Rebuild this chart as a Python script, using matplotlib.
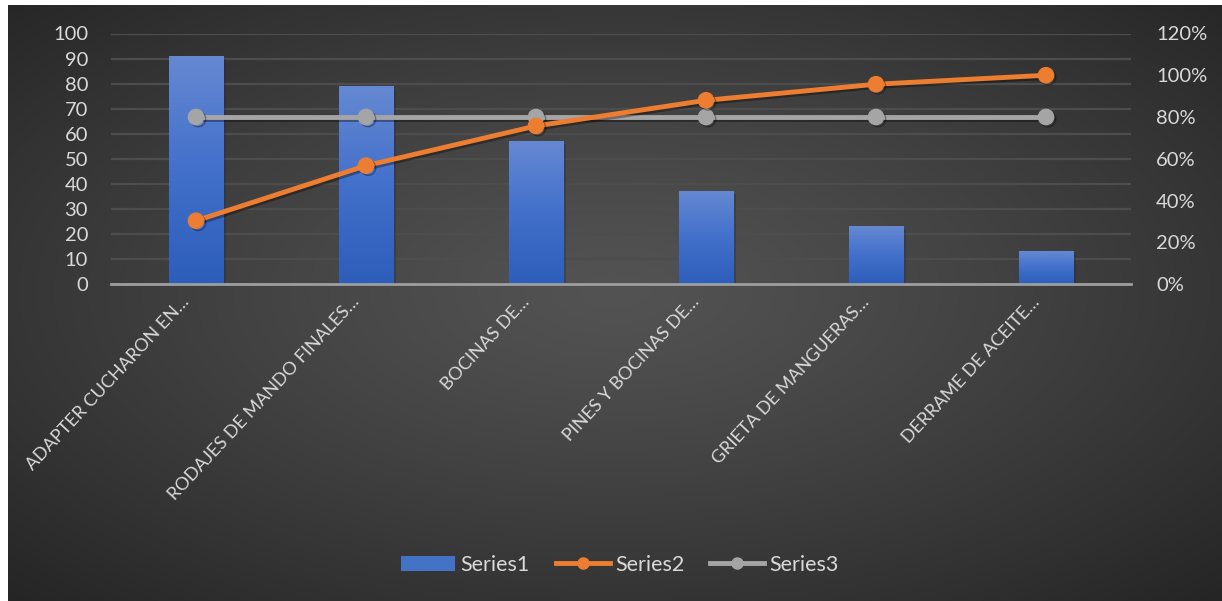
import matplotlib.pyplot as plt
import matplotlib.patheffects as pe
import matplotlib.transforms as mtransforms
import numpy as np
from matplotlib.patches import Patch
from matplotlib.lines import Line2D
from matplotlib.colors import LinearSegmentedColormap

categories = ['ADAPTER CUCHARON EN…', 'RODAJES DE MANDO FINALES…', 'BOCINAS DE…',
              'PINES Y BOCINAS DE…', 'GRIETA DE MANGUERAS…', 'DERRAME DE ACEITE…']
series1 = [91, 79, 57, 37, 23, 13]
series2 = [0.303, 0.567, 0.757, 0.88, 0.957, 1.0]
series3 = [0.8, 0.8, 0.8, 0.8, 0.8, 0.8]
left_ticks = list(range(0, 101, 10))
right_ticks = [0, 0.2, 0.4, 0.6, 0.8, 1.0, 1.2]

plt.rcParams['font.family'] = ['Lato', 'DejaVu Sans']
txt = '#d9d9d9'

W, H = 1222, 601
fig = plt.figure(figsize=(W / 100, H / 100), dpi=100, facecolor='white')

# dark radial background (chart area has small white border top/left)
bg = fig.add_axes([8 / W, 0, 1 - 8 / W, 1 - 5 / H])
bg.set_axis_off()
yy, xx = np.mgrid[0:1:300j, 0:1:600j]
r = np.sqrt(((xx - 0.5) / 0.75) ** 2 + ((yy - 0.52) / 0.75) ** 2)
r = np.clip(r / r.max(), 0, 1)
c0 = np.array([0x53, 0x53, 0x53]) / 255
c1 = np.array([0x25, 0x25, 0x25]) / 255
img = c0 + (c1 - c0) * r[..., None] ** 1.2
bg.imshow(img, aspect='auto', extent=[0, 1, 0, 1], origin='lower')

left, right = 111 / W, 1131 / W
bottom, top = 1 - 284 / H, 1 - 33.5 / H
ax = fig.add_axes([left, bottom, right - left, top - bottom])
ax.patch.set_alpha(0)
x = np.arange(len(categories))

bars = ax.bar(x, series1, width=0.32, color='#4472c4', zorder=2)
grad = np.linspace(0, 1, 100)[:, None]
cmap = LinearSegmentedColormap.from_list('b', ['#2d5eba', '#4270cb', '#6588d2'])
for b in bars:
    bx, by, bw, bh = b.get_x(), b.get_y(), b.get_width(), b.get_height()
    im = ax.imshow(grad, cmap=cmap, aspect='auto', origin='lower',
                   extent=[bx, bx + bw, by, by + bh], zorder=2)
    im.set_clip_path(b)
    b.set_path_effects([pe.SimplePatchShadow(offset=(2, -2), alpha=0.25)])

ax.set_xlim(-0.5, len(categories) - 0.5)
ax.set_ylim(0, 100)
ax.set_yticks(left_ticks)
ax.set_yticklabels([str(v) for v in left_ticks], fontsize=14.5, color=txt)
ax.yaxis.grid(True, color='#4d4d4d', linewidth=1.6)
ax.set_axisbelow(True)
ax.tick_params(axis='y', length=0, pad=16.5)
ax.tick_params(axis='x', length=0, pad=7)
ax.set_xticks(x)
ax.set_xticklabels(categories, rotation=47, ha='right', va='top',
                   rotation_mode='anchor', fontsize=13, color=txt)
shift = mtransforms.ScaledTranslation(-0.15, 0, fig.dpi_scale_trans)
for lab in ax.get_xticklabels():
    lab.set_transform(lab.get_transform() + shift)
for s in ['top', 'left', 'right']:
    ax.spines[s].set_visible(False)
ax.spines['bottom'].set_color('#9e9e9e')
ax.spines['bottom'].set_linewidth(2)
ax.spines['bottom'].set_zorder(3)

ax2 = ax.twinx()
ax2.patch.set_alpha(0)
ax2.set_ylim(0, 1.2)
ax2.set_yticks(right_ticks)
ax2.set_yticklabels([f'{int(round(v * 100))}%' for v in right_ticks], fontsize=14.5, color=txt)
ax2.tick_params(axis='y', length=0, pad=18)
for s in ax2.spines.values():
    s.set_visible(False)

shadow = [pe.SimpleLineShadow(offset=(1.5, -1.5), alpha=0.35, shadow_color='black'), pe.Normal()]
ax2.plot(x, series3, color='#a5a5a5', lw=3.5, marker='o', ms=11,
         solid_capstyle='round', path_effects=shadow, zorder=3)
ax2.plot(x, series2, color='#ed7d31', lw=3.5, marker='o', ms=11,
         solid_capstyle='round', path_effects=shadow, zorder=4)

handles = [Patch(facecolor='#4472c4', edgecolor='none'),
           Line2D([], [], color='#ed7d31', lw=3.5, marker='o', ms=8),
           Line2D([], [], color='#a5a5a5', lw=3.5, marker='o', ms=8)]
leg = fig.legend(handles, ['Series1', 'Series2', 'Series3'], loc='center',
                 bbox_to_anchor=(620 / W, 1 - 565 / H), ncol=3, frameon=False,
                 fontsize=15.5, labelcolor=txt, handlelength=2.5, handletextpad=0.25,
                 columnspacing=1.2)

fig.savefig('out.png', dpi=100, facecolor=fig.get_facecolor())
